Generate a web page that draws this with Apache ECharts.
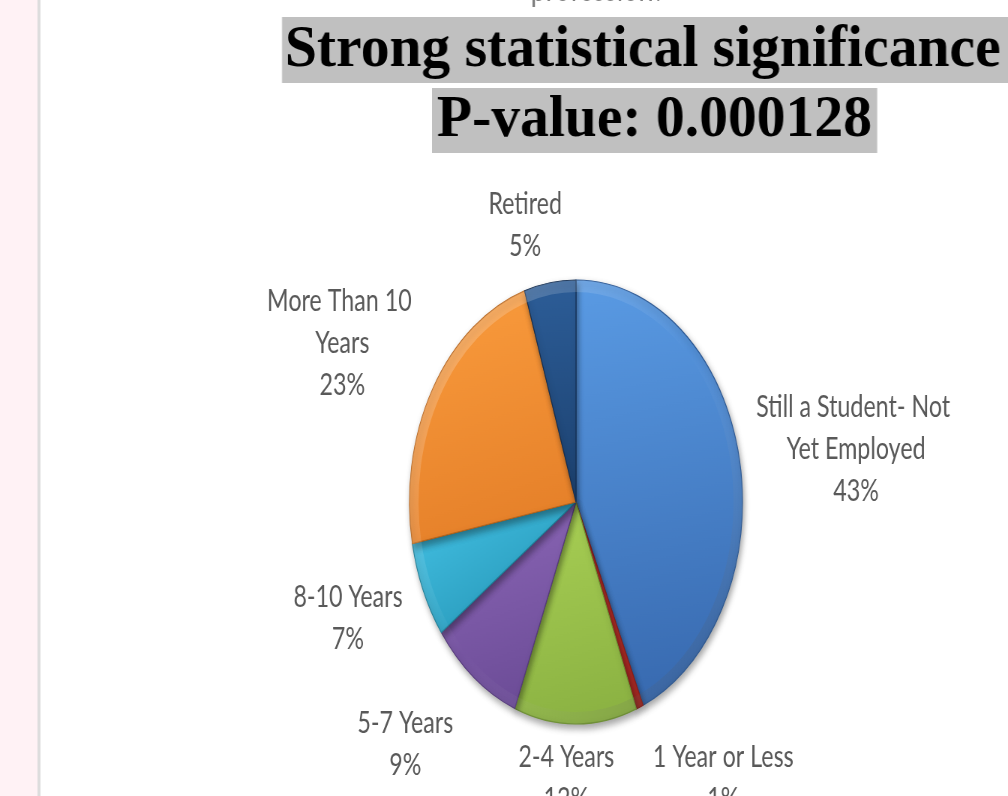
<!DOCTYPE html>
<html>
<head>
<meta charset="utf-8">
<script src="https://cdn.jsdelivr.net/npm/echarts@6/dist/echarts.min.js"></script>
<style>
html,body{margin:0;padding:0;width:1008px;height:796px;overflow:hidden;background:#fff}
#pie{position:absolute;left:0;top:0;width:1344px;height:796px;transform:scaleX(0.75);transform-origin:0 0}
#head{position:absolute;left:0;top:0;width:1050px;height:170px;transform:scaleX(0.96);transform-origin:0 0;pointer-events:none}
</style>
</head>
<body>
<div id="pie"></div>
<div id="head"></div>
<script>
// ---- data ----
const categories = ['Still a Student- Not Yet Employed', '1 Year or Less', '2-4 Years', '5-7 Years', '8-10 Years', 'More Than 10 Years', 'Retired'];
const shares = [43.4, 0.7, 11.9, 9.0, 7.0, 23.0, 5.0];
const titleLines = ['Strong statistical significance', 'P-value: 0.000128'];
const hiddenTitleTail = 'profession?';

// ---- styles ----
const topColors    = ['#5a9be4', '#c8352d', '#a9d055', '#8d68b8', '#45c3e6', '#fb9d3e', '#2d5e99'];
const bottomColors = ['#386ab0', '#a52822', '#8cb343', '#6d4d98', '#2c9fc0', '#e6812a', '#1c416f'];
const edgeColors   = ['#2d5a96', '#8a1f1a', '#6f9233', '#563a7c', '#1f8099', '#b9661c', '#152f52'];
const lineLen  = [36, 77, 54, 84, 70, 90, 58];
const lineLen2 = [-29, -23, -88, -80, -84, -77, -96];
const labelW   = [290, 200, 190, 230, 230, 230, 230];

const FONT = 'Lato';
const CX = 768, CY = 502, R = 222;

const pieData = categories.map((name, i) => ({
  name: name,
  value: shares[i],
  itemStyle: {
    color: {type: 'linear', x: 0, y: 0, x2: 0.3, y2: 1,
      colorStops: [{offset: 0, color: topColors[i]}, {offset: 1, color: bottomColors[i]}]},
    borderColor: edgeColors[i]
  },
  label: {width: labelW[i]},
  labelLine: {length: lineLen[i], length2: lineLen2[i]}
}));

// bevel rim drawn over the same slices
const rimData = categories.map((name, i) => ({name: name, value: shares[i]}));

const pie = echarts.init(document.getElementById('pie'), null, {renderer: 'canvas'});
pie.setOption({
  backgroundColor: '#ffffff',
  animation: false,
  graphic: [
    {type: 'rect', shape: {x: 0, y: 0, width: 50, height: 796}, style: {fill: '#fff2f5'}, silent: true},
    {type: 'rect', shape: {x: 50, y: 0, width: 4, height: 796}, style: {fill: '#dddddd'}, silent: true},
    {type: 'text', x: 797, y: -11, silent: true,
      style: {text: hiddenTitleTail, font: '36px Lato', fill: '#7f7f7f', align: 'center', verticalAlign: 'middle'}}
  ],
  series: [{
    type: 'pie',
    z: 2,
    center: [CX, CY],
    radius: R,
    startAngle: 90,
    clockwise: true,
    avoidLabelOverlap: false,
    silent: true,
    itemStyle: {borderWidth: 1.2, shadowBlur: 7, shadowOffsetX: 2, shadowOffsetY: 4, shadowColor: 'rgba(0,0,0,0.35)'},
    label: {
      show: true,
      position: 'outside',
      overflow: 'break',
      fontFamily: FONT,
      fontSize: 31,
      lineHeight: 42,
      color: '#595959',
      formatter: p => '{t|' + p.name + '\n' + Math.round(p.percent) + '%}',
      rich: {t: {align: 'center', fontFamily: FONT, fontSize: 31, lineHeight: 42, color: '#595959'}}
    },
    labelLine: {show: false},
    labelLayout: {hideOverlap: false},
    data: pieData
  }, {
    type: 'pie',
    z: 3,
    center: [CX, CY],
    radius: [R - 12, R],
    startAngle: 90,
    clockwise: true,
    silent: true,
    label: {show: false},
    labelLine: {show: false},
    itemStyle: {
      borderWidth: 0,
      color: {type: 'linear', global: true, x: CX - R, y: CY - R, x2: CX + R, y2: CY + R,
        colorStops: [{offset: 0, color: 'rgba(255,255,255,0.30)'}, {offset: 0.5, color: 'rgba(255,255,255,0.0)'}, {offset: 1, color: 'rgba(0,0,0,0.22)'}]}
    },
    data: rimData
  }]
});

const head = echarts.init(document.getElementById('head'), null, {renderer: 'canvas'});
head.setOption({
  animation: false,
  title: [
    {text: titleLines[0], left: 293.75, top: 17, padding: [0, 30, 0, 3], backgroundColor: '#c0c0c0',
      textStyle: {fontFamily: 'Liberation Serif', fontWeight: 'bold', fontSize: 60, lineHeight: 66, color: '#000'}},
    {text: titleLines[1], left: 450, top: 88, padding: [0, 5.5, 0, 5], backgroundColor: '#c0c0c0',
      textStyle: {fontFamily: 'Liberation Serif', fontWeight: 'bold', fontSize: 60, lineHeight: 65, color: '#000'}}
  ]
});
</script>
</body>
</html>
